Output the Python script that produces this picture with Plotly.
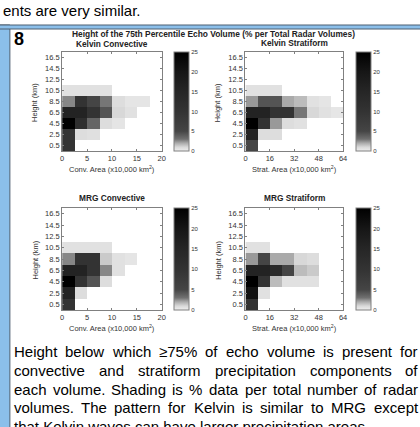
import plotly.graph_objects as go

W, H = 420, 427
def fx(p): return p / W
def fy(p): return 1 - p / H

# ---------------- data ----------------
heights = [0.5, 2.5, 4.5, 6.5, 8.5, 10.5, 12.5, 14.5, 16.5]
conv_area = [1.25, 3.75, 6.25, 8.75, 11.25, 13.75, 16.25, 18.75]
strat_area = [4, 12, 20, 28, 36, 44, 52, 60]
conv_ticks = [0, 5, 10, 15, 20]
strat_ticks = [0, 16, 32, 48, 64]
cbar_ticks = [0, 5, 10, 15, 20, 25]

# % of radar volumes, rows = heights (0.5 .. 16.5), cols = area bins
kelvin_conv = [
    [10],
    [10, 0.8, 0.65],
    [25, 12, 3.5, 0.8, 0.45],
    [16, 16, 10, 4.3, 1.0, 0.6],
    [2.6, 10, 5, 2.9, 0.8, 0.45, 0.45],
    [0.6, 0.6, 0.6, 0.6],
    [], [], [],
]
kelvin_strat = [
    [5],
    [16, 0.8, 0.8],
    [25, 10, 2.3, 0.8, 0.6],
    [16, 16, 10, 10, 2.9, 1.0, 0.6, 0.4],
    [2.3, 4.3, 4.3, 2.0, 1.6, 0.6, 0.45],
    [0.6, 0.6, 0.6],
    [], [], [],
]
mrg_conv = [
    [10],
    [16, 0.8],
    [25, 10, 4.3, 0.8],
    [16, 16, 10, 2.6, 0.6],
    [2.6, 10, 10, 1.3, 0.6, 0.45],
    [0.6, 0.6, 0.6, 0.6],
    [], [], [],
]
mrg_strat = [
    [10],
    [21, 0.6],
    [25, 10, 1.6, 0.6, 0.6, 0.6],
    [16, 16, 13, 5, 1.6, 1.3],
    [2.3, 5, 2.0, 2.0, 1.0, 0.8],
    [0.6, 0.6],
    [], [], [],
]

def pad(rows):
    return [r + [None] * (8 - len(r)) for r in rows]

colorscale = [[0, '#efefef'], [0.04, '#d8d8d8'], [0.08, '#aaaaaa'], [0.12, '#707070'],
              [0.2, '#454545'], [0.4, '#333333'], [0.6, '#262626'], [0.8, '#161616'],
              [1, '#000000']]

FONT = "Liberation Sans, Arial, sans-serif"
AX_COL = '#808080'
TXT_COL = '#333333'

# panel geometry (pixels)
panels = [
    dict(z=kelvin_conv, x=conv_area, ticks=conv_ticks, rng=[0, 20], xd=(61, 162), yd=(52, 151), cbx=174,
         title='Kelvin Convective', ty=43.5, xt='Conv. Area (x10,000 km<sup>2</sup>)'),
    dict(z=kelvin_strat, x=strat_area, ticks=strat_ticks, rng=[0, 64], xd=(247, 346), yd=(52, 151), cbx=359,
         title='Kelvin Stratiform', ty=43, xt='Strat. Area (x10,000 km<sup>2</sup>)'),
    dict(z=mrg_conv, x=conv_area, ticks=conv_ticks, rng=[0, 20], xd=(61, 162), yd=(208, 310), cbx=174,
         title='MRG Convective', ty=198, xt='Conv. Area (x10,000 km<sup>2</sup>)'),
    dict(z=mrg_strat, x=strat_area, ticks=strat_ticks, rng=[0, 64], xd=(247, 346), yd=(208, 310), cbx=359,
         title='MRG Stratiform', ty=198, xt='Strat. Area (x10,000 km<sup>2</sup>)'),
]

def ann(**kw):
    d = dict(xref='paper', yref='paper', showarrow=False, borderpad=0, borderwidth=0)
    d.update(kw)
    return d

fig = go.Figure()
annotations = []
layout = {}
for i, p in enumerate(panels):
    n = '' if i == 0 else str(i + 1)
    fig.add_trace(go.Heatmap(
        z=pad(p['z']), x=p['x'], y=heights, xaxis='x' + n, yaxis='y' + n,
        colorscale=colorscale, zmin=0, zmax=25, hoverinfo='skip',
        colorbar=dict(x=fx(p['cbx']), xanchor='left', y=fy(p['yd'][0]), yanchor='top',
                      len=(p['yd'][1] - p['yd'][0]) / H, lenmode='fraction',
                      thickness=15, thicknessmode='pixels', xpad=0, ypad=0,
                      outlinewidth=1, outlinecolor=AX_COL, tickvals=cbar_ticks,
                      ticks='', tickfont=dict(size=6, color=TXT_COL, family=FONT)),
    ))
    common = dict(showline=True, linecolor=AX_COL, linewidth=1, mirror='ticks', ticks='inside',
                  ticklen=2, tickcolor=AX_COL, showgrid=False, zeroline=False,
                  tickfont=dict(size=7.5, color=TXT_COL, family=FONT))
    layout['xaxis' + n] = dict(domain=[fx(p['xd'][0]), fx(p['xd'][1])], range=p['rng'],
                               tickvals=p['ticks'], anchor='y' + n, **common)
    layout['yaxis' + n] = dict(domain=[fy(p['yd'][1]), fy(p['yd'][0])], range=[-0.5, 17.5],
                               tickvals=heights, ticktext=[f'{h:.1f}' for h in heights],
                               anchor='x' + n, **common)
    cx = (p['xd'][0] + p['xd'][1]) / 2
    cy = (p['yd'][0] + p['yd'][1]) / 2
    annotations.append(ann(text='<b>' + p['title'] + '</b>', x=fx(cx), y=fy(p['ty']),
                           xanchor='center', yanchor='middle',
                           font=dict(size=8.3, color='#222', family=FONT)))
    annotations.append(ann(text=p['xt'], x=fx(cx), y=fy(p['yd'][1] + 18),
                           xanchor='center', yanchor='middle',
                           font=dict(size=7.5, color=TXT_COL, family=FONT)))
    annotations.append(ann(text='Height (km)', x=fx(p['xd'][0] - 28), y=fy(cy + 1),
                           xanchor='center', yanchor='middle', textangle=-90,
                           font=dict(size=7.5, color=TXT_COL, family=FONT)))

# main title and panel number
annotations.append(ann(text='<b>Height of the 75th Percentile Echo Volume (% per Total Radar Volumes)</b>',
                       x=fx(215), y=fy(33.8), xanchor='center', yanchor='middle',
                       font=dict(size=8.4, color='#222', family=FONT)))
annotations.append(ann(text='<b>8</b>', x=fx(12), y=fy(39), xanchor='left', yanchor='middle',
                       font=dict(size=18, color='#000', family=FONT)))

# text around the figure
HELV = {' ': 278, '!': 278, '%': 889, '(': 333, ')': 333, ',': 278, '-': 333, '.': 278,
        '≥': 549, 'A': 667, 'B': 667, 'C': 722, 'D': 722, 'E': 667, 'F': 611, 'G': 778, 'H': 722,
        'I': 278, 'J': 500, 'K': 667, 'L': 556, 'M': 833, 'N': 722, 'O': 778, 'P': 667, 'Q': 778,
        'R': 722, 'S': 667, 'T': 611, 'U': 722, 'V': 667, 'W': 944, 'X': 667, 'Y': 667, 'Z': 611,
        'a': 556, 'b': 556, 'c': 500, 'd': 556, 'e': 556, 'f': 278, 'g': 556, 'h': 556, 'i': 222,
        'j': 222, 'k': 500, 'l': 222, 'm': 833, 'n': 556, 'o': 556, 'p': 556, 'q': 556, 'r': 333,
        's': 500, 't': 278, 'u': 556, 'v': 500, 'w': 722, 'x': 500, 'y': 500, 'z': 500}
def tw(s, size):
    return sum(HELV.get(c, 556) for c in s) * size / 1000

FS = 15
caption = [
    "Height below which ≥75% of echo volume is present for",
    "convective and stratiform precipitation components of",
    "each volume. Shading is % data per total number of radar",
    "volumes. The pattern for Kelvin is similar to MRG except",
    "that Kelvin waves can have larger precipitation areas.",
]
L, R = 12, 421.5
for i, line in enumerate(caption):
    base = 357 + 18.7 * i
    ymid = fy(base - 0.35 * FS)
    if i < len(caption) - 1:
        words = line.split()
        tot = sum(tw(w, FS) for w in words)
        gap = (R - L - tot) / (len(words) - 1)
        xpos = L
        for w in words:
            annotations.append(ann(text=w, x=fx(xpos), y=ymid, xanchor='left', yanchor='middle',
                                   font=dict(size=FS, color='#000', family=FONT)))
            xpos += tw(w, FS) + gap
    else:
        annotations.append(ann(text=line, x=fx(L), y=ymid, xanchor='left', yanchor='middle',
                               font=dict(size=FS, color='#000', family=FONT)))

annotations.append(ann(text='ents are very similar.', x=fx(1), y=fy(16 - 0.35 * FS),
                       xanchor='left', yanchor='middle',
                       font=dict(size=FS, color='#000', family=FONT)))

BLUE = '#8bbfea'
EDGE = '#4d5f70'
shapes = [
    dict(type='rect', xref='paper', yref='paper', x0=fx(-3), x1=fx(8), y0=fy(440), y1=fy(25),
         fillcolor=BLUE, line=dict(color=EDGE, width=1)),
    dict(type='rect', xref='paper', yref='paper', x0=fx(-3), x1=fx(425), y0=fy(29), y1=fy(25),
         fillcolor=BLUE, line=dict(color=EDGE, width=1)),
]

fig.update_layout(width=W, height=H, margin=dict(l=0, r=0, t=0, b=0),
                  paper_bgcolor='white', plot_bgcolor='white', showlegend=False,
                  annotations=annotations, shapes=shapes, font=dict(family=FONT), **layout)

fig.write_html("out.html", config={'displayModeBar': False},
               post_script="document.body.style.margin='0';document.body.style.overflow='hidden';")
